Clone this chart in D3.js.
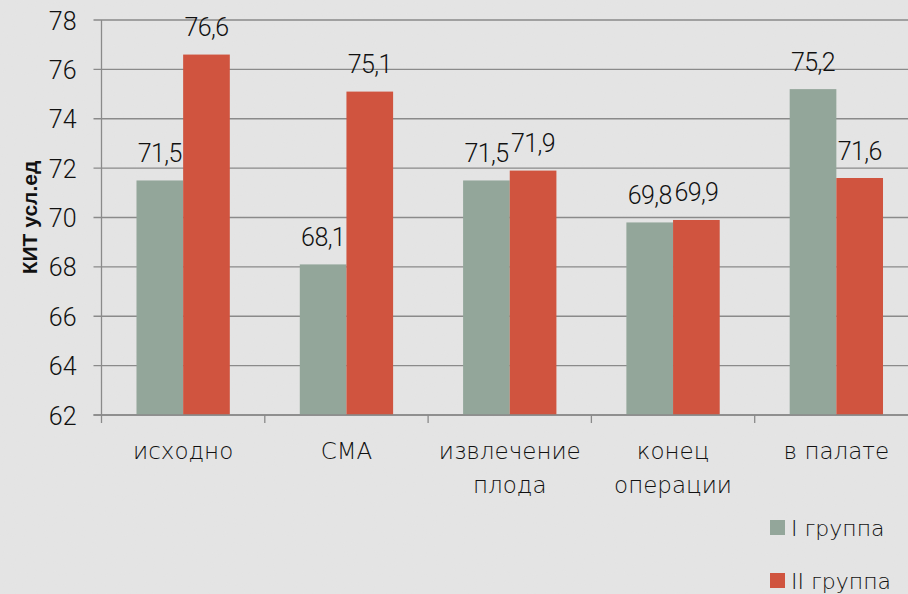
<!DOCTYPE html>
<html>
<head>
<meta charset="utf-8">
<script src="https://cdn.jsdelivr.net/npm/d3@7"></script>
<style>
  html, body { margin: 0; padding: 0; background: #e5e5e5; }
  svg { display: block; }
  text { font-family: "DejaVu Sans", sans-serif; font-weight: 200; fill: #111; }
  .num { font-family: Roboto, sans-serif; font-weight: 300; }
</style>
</head>
<body>
<svg id="chart" width="908" height="594"></svg>
<script>
const categories = [["исходно"], ["СМА"], ["извлечение", "плода"], ["конец", "операции"], ["в палате"]];
const seriesNames = ["I группа", "II группа"];
const group1 = [71.5, 68.1, 71.5, 69.8, 75.2];
const group2 = [76.6, 75.1, 71.9, 69.9, 71.6];
const yTicks = [62, 64, 66, 68, 70, 72, 74, 76, 78];
const colors = ["#93a69a", "#d0543f"];

const W = 908, H = 594;
const svg = d3.select("#chart");

// subtle textured backdrop
const defs = svg.append("defs");
const filt = defs.append("filter").attr("id", "grain").attr("x", 0).attr("y", 0).attr("width", "100%").attr("height", "100%");
filt.append("feTurbulence").attr("type", "fractalNoise").attr("baseFrequency", 0.9).attr("numOctaves", 2).attr("seed", 3);
filt.append("feColorMatrix").attr("type", "matrix").attr("values", "0 0 0 0 0.5  0 0 0 0 0.5  0 0 0 0 0.5  0 0 0 0.05 0");
svg.append("rect").attr("width", W).attr("height", H).attr("fill", "#e5e5e5");
svg.append("rect").attr("width", W).attr("height", H).attr("filter", "url(#grain)");

const plot = { left: 101.5, top: 20, bottom: 415, width: 816.5 };

const x = d3.scaleBand().domain(d3.range(categories.length)).range([plot.left, plot.left + plot.width]).paddingInner(0).paddingOuter(0);
const inner = d3.scaleBand().domain([0, 1]).range([0, x.bandwidth()]).paddingInner(0).paddingOuter(0.75);
const y = d3.scaleLinear().domain([62, 78]).range([plot.bottom, plot.top]);

// gridlines with left tick marks
svg.append("g").selectAll("line").data(yTicks).join("line")
  .attr("x1", plot.left - 8).attr("x2", W)
  .attr("y1", d => y(d)).attr("y2", d => y(d))
  .attr("stroke", "#8a8a8a").attr("stroke-width", 1.3);

// y axis
const yAxis = svg.append("g").attr("transform", `translate(${plot.left},0)`)
  .call(d3.axisLeft(y).tickValues(yTicks).tickSize(0).tickPadding(25));
yAxis.select(".domain").remove();
yAxis.selectAll("text").attr("class", "num").style("font-size", "25px").attr("fill", "#111").attr("dy", "0.36em");
svg.append("line").attr("x1", plot.left).attr("x2", plot.left).attr("y1", plot.top).attr("y2", plot.bottom)
  .attr("stroke", "#8a8a8a").attr("stroke-width", 1.3);

// bars and value labels
const seriesData = [group1, group2];
seriesData.forEach((vals, s) => {
  const g = svg.append("g");
  g.selectAll("rect").data(vals).join("rect")
    .attr("x", (d, i) => x(i) + inner(s))
    .attr("y", d => y(d))
    .attr("width", inner.bandwidth())
    .attr("height", d => y(62) - y(d))
    .attr("fill", colors[s]);
  g.selectAll("text").data(vals).join("text")
    .attr("class", "num")
    .attr("x", (d, i) => x(i) + inner(s) + inner.bandwidth() / 2)
    .attr("y", d => y(d) - 18.5)
    .attr("text-anchor", "middle")
    .style("font-size", "25px")
    .style("letter-spacing", "-0.6px")
    .text(d => d.toFixed(1).replace(".", ","));
});

// x axis baseline and category ticks
svg.append("line").attr("x1", plot.left - 8).attr("x2", W).attr("y1", y(62)).attr("y2", y(62))
  .attr("stroke", "#8a8a8a").attr("stroke-width", 1.3);
const xAxis = svg.append("g").attr("transform", `translate(0,${y(62)})`);
xAxis.selectAll("line").data(d3.range(categories.length + 1)).join("line")
  .attr("x1", i => plot.left + i * x.bandwidth()).attr("x2", i => plot.left + i * x.bandwidth())
  .attr("y1", 0).attr("y2", 8).attr("stroke", "#8a8a8a").attr("stroke-width", 1.3);
const catText = xAxis.selectAll("text").data(categories).join("text")
  .attr("x", (d, i) => x(i) + x.bandwidth() / 2)
  .attr("y", 44)
  .attr("text-anchor", "middle")
  .style("font-size", "23px");
catText.selectAll("tspan").data(d => d).join("tspan")
  .attr("x", function () { return d3.select(this.parentNode).attr("x"); })
  .attr("dy", (d, i) => i === 0 ? 0 : 34)
  .text(d => d);

// y axis title
svg.append("text")
  .attr("transform", `translate(37,${(plot.top + plot.bottom) / 2}) rotate(-90)`)
  .attr("text-anchor", "middle")
  .style("font-size", "21px").style("font-weight", "bold")
  .style("font-family", "Liberation Sans, Arial, sans-serif")
  .text("КИТ усл.ед");

// legend
const legend = svg.append("g");
seriesNames.forEach((name, s) => {
  const ly = 520 + s * 53;
  legend.append("rect").attr("x", 770).attr("y", ly).attr("width", 15).attr("height", 15).attr("fill", colors[s]);
  legend.append("text").attr("x", 791).attr("y", ly + 16)
    .style("font-size", "22px").text(name);
});
</script>
</body>
</html>
